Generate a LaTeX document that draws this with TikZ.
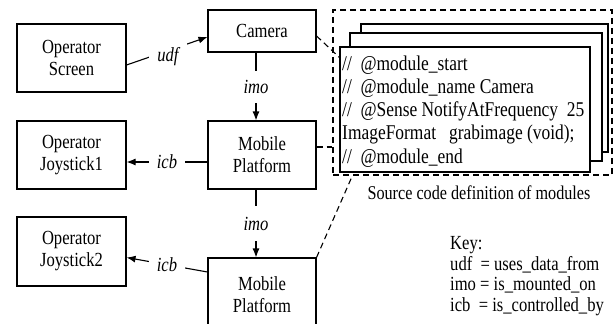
\documentclass[tikz,border=0pt]{standalone}
\usepackage{fontspec}
\setmainfont{Liberation Serif}[FakeStretch=0.83]
\usetikzlibrary{arrows.meta,calc}
\begin{document}
\begin{tikzpicture}[x=1pt,y=-1pt,
  box/.style={draw,line width=1.1pt,rectangle,inner sep=0pt,align=center,font=\fontsize{20}{22}\selectfont},
  lbl/.style={fill=white,inner xsep=8pt,inner ysep=2pt,font=\itshape\fontsize{20}{22}\selectfont},
  arr/.style={line width=1.1pt,-{Latex[length=9pt,width=7pt]}},
  dsh/.style={line width=1.1pt,dash pattern=on 6pt off 4pt},
  page/.style={draw,fill=white,line width=1.1pt,inner sep=0pt},
  plain/.style={inner sep=0pt,align=left},
]
\useasboundingbox (0,0) rectangle (614,324);

% module boxes
\node[box,minimum width=109pt,minimum height=68pt] (scr) at (71.5,58) {Operator\\Screen};
\node[box,minimum width=108pt,minimum height=42pt] (cam) at (262,31) {Camera};
\node[box,minimum width=108pt,minimum height=68pt] (mp1) at (262,155) {Mobile\\Platform};
\node[box,minimum width=109pt,minimum height=68pt] (js1) at (71.5,155) {Operator\\Joystick1};
\node[box,minimum width=109pt,minimum height=69pt] (js2) at (71.5,251.5) {Operator\\Joystick2};
\node[box,minimum width=108pt,minimum height=74pt] (mp2) at (262,295) {Mobile\\Platform};

% source code pages
\node[page,minimum width=247pt,minimum height=128pt] (p3) at (484.5,88) {};
\node[page,minimum width=252pt,minimum height=128pt] (p2) at (476,97) {};
\node[page,minimum width=250pt,minimum height=125pt] (p1) at (465,109.5) {};
\node[plain,anchor=west,font=\fontsize{21}{23.2}\selectfont] (code) at (342,111.5)
  {//\ \ @module\_start\\
   //\ \ @module\_name Camera\\
   //\ \ @Sense NotifyAtFrequency\ \ 25\\
   ImageFormat\ \ \ grabimage (void);\\
   //\ \ @module\_end};
\node[draw,dsh,inner sep=0pt,minimum width=279pt,minimum height=165pt] (src) at (472.5,92.5) {};
\node[plain,font=\fontsize{19.5}{22}\selectfont] (cap) at (479,193) {Source code definition of modules};

% key
\node[plain,anchor=west,font=\fontsize{20}{20.7}\selectfont] (key) at (450,276)
  {Key:\\
   udf\ \ = uses\_data\_from\\
   imo = is\_mounted\_on\\
   icb\ \ = is\_controlled\_by};

% connectors
\draw[arr] ($(scr.east)+(0,7)$) -- ($(cam.west)+(0,6)$);
\node[lbl,inner ysep=6pt] (udf) at (168,57) {udf};
\draw[arr] ($(cam.south)+(-6,0)$) -- node[lbl,minimum height=32pt] (imo1) {imo} ($(mp1.north)+(-6,0)$);
\draw[arr] ($(mp1.south)+(-6,0)$) -- node[lbl,minimum height=35pt] (imo2) {imo} ($(mp2.north)+(-6,0)$);
\draw[arr] ($(mp1.west)+(0,7)$) -- node[lbl] (icb1) {icb} ($(js1.east)+(0,7)$);
\draw[arr] ($(mp2.west)+(0,-23)$) -- node[lbl] (icb2) {icb} ($(js2.east)+(0,6)$);

% dashed links to source definitions
\draw[dsh] ($(cam.east)+(0,5)$) -- ($(p1.north west)+(0,11)$);
\draw[dsh] ($(mp1.east)+(0,-8)$) -- ($(src.west |- mp1.east)+(0,-8)$);
\draw[dsh] (mp2.north east) -- ($(src.south west)+(20,0)$);
\end{tikzpicture}
\end{document}
